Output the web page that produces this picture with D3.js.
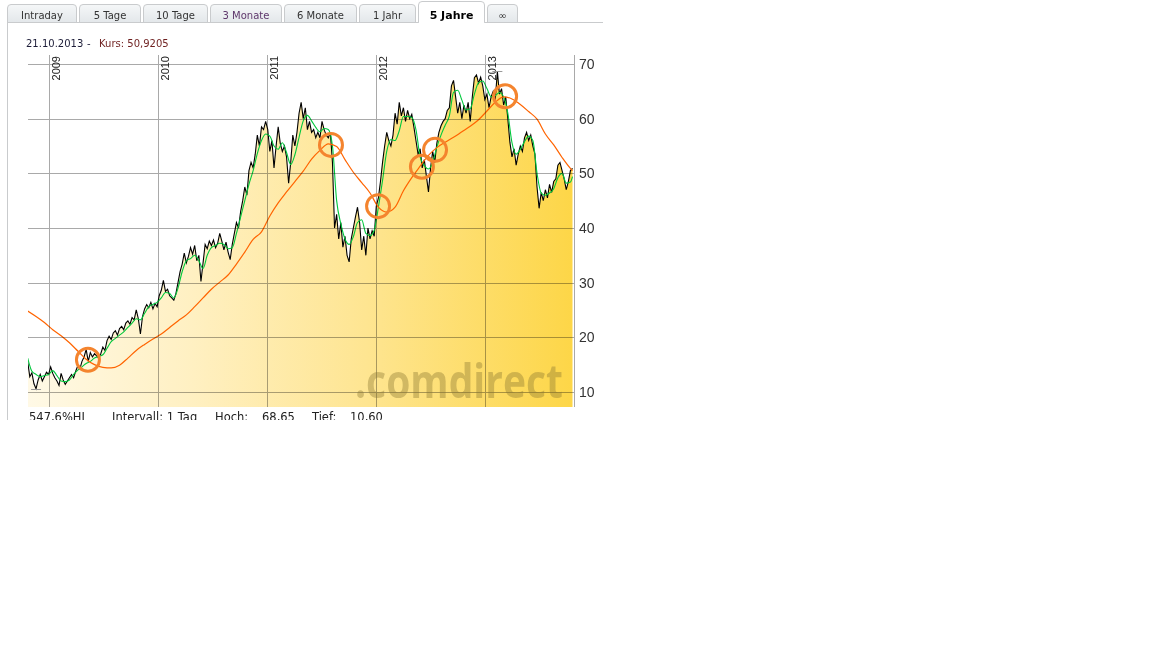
<!DOCTYPE html>
<html><head><meta charset="utf-8">
<script src="https://cdn.jsdelivr.net/npm/d3@7"></script>
<style>
body{margin:0;background:#fff;}
svg{display:block;}
</style></head><body>
<svg id="c" width="1152" height="420"></svg>
<script>
// ---------- DATA ----------
const tabs = ["Intraday","5 Tage","10 Tage","3 Monate","6 Monate","1 Jahr","5 Jahre","\u221E"];
const activeTab = "5 Jahre";
const visitedTab = "3 Monate";
const yTicks = [10,20,30,40,50,60,70];
const years = [2009,2010,2011,2012,2013];
const headerDate = "21.10.2013";
const headerKurs = "Kurs: 50,9205";
const footerLabels = ["547,6%HL","Intervall: 1 Tag","Hoch:","68,65","Tief:","10,60"];
const watermark = ".comdirect";
// weekly closes, last one = 21.10.2013
const price = [
15.5,12.8,13.5,11.5,10.6,12.2,13.2,12.0,12.8,13.6,
13.2,14.6,13.4,12.6,12.0,11.2,13.4,12.2,11.4,12.0,
12.6,13.2,12.6,13.8,14.8,14.2,15.6,16.4,17.8,15.6,
17.2,16.4,17.0,16.6,16.2,17.0,18.2,17.6,19.4,20.2,
19.6,20.8,21.2,20.4,21.6,22.0,21.4,22.6,23.0,22.4,
23.6,23.2,25.0,23.4,20.6,23.8,25.2,26.0,25.4,26.4,
25.2,26.2,25.6,27.6,28.6,30.4,28.4,28.8,27.6,27.2,
26.8,28.0,30.0,32.0,33.4,35.4,33.6,34.8,36.4,35.2,
36.8,34.0,35.0,30.2,33.6,37.0,36.2,37.6,36.8,37.8,
36.4,37.2,39.0,37.6,36.0,37.4,35.6,34.2,37.0,39.0,
41.0,40.0,43.0,45.0,47.5,46.0,50.5,52.0,51.0,53.5,
57.0,55.0,58.5,58.0,59.5,58.0,54.0,56.0,51.0,55.0,
58.5,55.5,54.0,55.0,53.0,48.2,52.0,57.0,55.0,57.5,
61.0,63.0,60.0,62.0,58.0,59.5,57.5,58.0,56.5,57.5,
56.5,59.5,58.0,57.0,56.5,57.5,52.0,40.0,42.5,38.0,
41.0,36.5,38.5,35.0,33.8,38.0,40.0,42.0,43.8,41.0,
36.0,38.5,35.0,40.0,38.0,39.5,38.5,44.0,45.5,48.5,
52.0,55.0,57.5,56.0,55.0,57.0,61.0,59.0,63.0,60.5,
62.0,59.5,61.5,60.0,60.8,58.5,56.0,53.5,54.5,51.0,
52.5,49.5,46.6,51.0,54.0,52.0,55.5,57.5,58.7,59.5,
60.0,61.5,62.0,66.0,67.0,64.0,61.0,63.0,60.0,62.5,
61.0,63.0,59.5,64.0,67.5,68.0,66.5,67.6,66.0,63.5,
64.5,62.0,64.0,65.0,63.5,68.65,64.5,65.5,62.5,64.0,
60.0,55.7,53.0,54.5,51.5,53.5,55.0,54.0,56.5,57.5,
56.0,57.0,55.0,53.5,47.5,43.6,46.5,45.0,47.0,45.5,
48.0,46.5,48.5,49.0,51.5,52.0,50.5,49.0,47.0,48.5,
50.5,50.9205];
// short moving average, read every 2 weeks (last = 21.10.2013)
const green = [
16.2,13.8,13.2,12.8,13.0,13.2,13.9,13.0,12.0,11.9,
12.2,13.2,14.0,14.6,15.2,15.6,16.2,16.5,16.8,18.0,
19.2,19.8,20.4,21.0,21.8,22.6,23.4,23.2,24.4,25.6,
26.0,26.4,27.2,28.2,28.0,27.2,29.0,32.0,34.0,34.4,
35.0,34.0,32.6,35.0,36.4,36.8,37.2,37.0,36.2,36.4,
39.0,42.0,45.0,48.0,50.5,53.6,56.0,57.2,56.8,55.0,
54.4,55.6,53.8,51.6,53.4,56.6,59.6,60.6,59.6,58.4,
57.6,58.2,58.0,55.0,45.0,40.8,38.0,37.0,38.4,41.0,
41.5,39.0,38.6,39.6,43.8,48.7,54.0,56.2,56.0,57.8,
60.4,60.4,60.2,58.0,53.0,51.4,50.8,52.0,54.8,57.0,
58.8,60.5,64.8,65.2,63.4,61.6,61.8,64.5,66.6,66.9,
65.5,64.0,64.2,64.8,64.0,61.0,55.6,53.5,54.4,55.8,
56.8,56.0,50.0,46.4,46.0,46.4,47.2,49.2,50.0,48.2,
48.4,49.4];
// long moving average, read every 4 weeks (last = 21.10.2013)
const orange = [
24.8,23.8,22.7,21.4,20.3,19.0,17.5,16.0,15.0,14.5,
14.4,14.9,16.2,17.6,18.7,19.7,20.6,21.8,23.0,24.1,
25.6,27.2,28.8,30.1,31.4,33.4,35.6,37.9,39.3,42.2,
44.6,46.6,48.5,50.4,52.6,54.2,55.4,54.9,52.5,50.2,
48.3,46.4,43.8,42.9,43.8,46.8,49.2,51.3,53.3,54.7,
55.7,56.6,57.6,58.6,59.8,61.4,63.0,64.0,63.6,62.6,
61.3,59.9,57.2,55.2,52.9,50.9,50.5];
const signalDates = ["2009-05-10","2011-08-03","2012-01-08","2012-06-03","2012-07-17","2013-03-09"];
const signalValues = [15.9,55.2,44.0,51.2,54.3,64.1];

// ---------- LAYOUT ----------
const svg = d3.select("#c");
const lastDate = new Date(2013,9,21);
const nW = price.length - 1;
const weekDate = w => d3.timeDay.offset(lastDate, -(nW - w) * 7);
const parse = d3.timeParse("%Y-%m-%d");

const x = d3.scaleTime().domain([new Date(2008,9,21), new Date(2013,9,26)]).range([28,574]);
const y = d3.scaleLinear().domain([7.25,71.65]).range([407,55]);
const plot = {l:28, r:574, t:55, b:407};

const priceData = price.map((v,i)=>({d:weekDate(i), v}));
const greenData = green.map((v,j)=>({d:weekDate(j < green.length-1 ? 2*j : nW), v}));
const orangeData = orange.map((v,m)=>({d:weekDate(m < orange.length-1 ? 4*m : nW), v}));
const signals = signalDates.map((s,i)=>({d:parse(s), v:signalValues[i]}));

const defs = svg.append("defs");
const fillGrad = defs.append("linearGradient").attr("id","fillGrad")
  .attr("gradientUnits","userSpaceOnUse").attr("x1",plot.l).attr("x2",plot.r).attr("y1",0).attr("y2",0);
[[0,"#fff9e6"],[0.3,"#fff0c2"],[0.62,"#fee591"],[1,"#fdd647"]].forEach(([o,c])=>
  fillGrad.append("stop").attr("offset",o).attr("stop-color",c));
const tabGrad = defs.append("linearGradient").attr("id","tabGrad").attr("x1",0).attr("x2",0).attr("y1",0).attr("y2",1);
tabGrad.append("stop").attr("offset",0).attr("stop-color","#f5f7f8");
tabGrad.append("stop").attr("offset",1).attr("stop-color","#e3e7ea");
defs.append("clipPath").attr("id","plotClip").append("rect")
  .attr("x",plot.l).attr("y",plot.t).attr("width",plot.r-plot.l).attr("height",plot.b-plot.t);

// ---------- TABS ----------
const tabEdges = [[7,77],[79,141],[143,208],[210,282],[284,357],[359,416],[418,485],[487,518]];
const tabPath = (x0,x1,top) => `M${x0+0.5},22.5V${top+4}Q${x0+0.5},${top+0.5} ${x0+4},${top+0.5}H${x1-4}Q${x1-0.5},${top+0.5} ${x1-0.5},${top+4}V22.5`;
const tg = svg.append("g");
tabs.forEach((t,i)=>{
  if (t===activeTab) return;
  const [x0,x1] = tabEdges[i];
  tg.append("path").attr("d",tabPath(x0,x1,4)+"Z").attr("fill","url(#tabGrad)").attr("stroke","#c9cbcd");
});
tg.append("line").attr("x1",7).attr("x2",603).attr("y1",22.5).attr("y2",22.5).attr("stroke","#c9cbcd");
tabs.forEach((t,i)=>{
  const [x0,x1] = tabEdges[i];
  const act = t===activeTab;
  if (act) {
    tg.append("path").attr("d",tabPath(x0,x1,1)).attr("fill","#fff").attr("stroke","#c9cbcd");
    tg.append("rect").attr("x",x0+1).attr("y",21).attr("width",x1-x0-2).attr("height",3).attr("fill","#fff");
  }
  tg.append("text").attr("x",(x0+x1)/2).attr("y",19).attr("text-anchor","middle")
    .attr("font-family","Verdana, 'DejaVu Sans', sans-serif").attr("font-size",act?11:10)
    .attr("font-weight",act?"bold":"normal")
    .attr("fill",act?"#000":(t===visitedTab?"#5e376b":"#333"))
    .text(t);
});
svg.append("line").attr("x1",7.5).attr("x2",7.5).attr("y1",22).attr("y2",420).attr("stroke","#c9cbcd");

// ---------- HEADER ----------
const hf = "Verdana, 'DejaVu Sans', sans-serif";
svg.append("text").attr("x",26).attr("y",47).attr("font-family",hf).attr("font-size",10).attr("fill","#1d1d38").text(headerDate);
svg.append("text").attr("x",87).attr("y",47).attr("font-family",hf).attr("font-size",10).attr("fill","#1d1d38").text("-");
svg.append("text").attr("x",99).attr("y",47).attr("font-family",hf).attr("font-size",10).attr("fill","#6e1f1f").text(headerKurs);

// ---------- PLOT ----------
const area = d3.area().x(d=>x(d.d)).y0(plot.b).y1(d=>y(d.v));
const line = d3.line().x(d=>x(d.d)).y(d=>y(d.v));
const pg = svg.append("g").attr("clip-path","url(#plotClip)");
pg.append("path").datum(priceData).attr("d",area).attr("fill","url(#fillGrad)");

// grid
const grid = svg.append("g").style("mix-blend-mode","multiply");
grid.selectAll(".h").data(yTicks).join("line")
  .attr("x1",plot.l).attr("x2",plot.r).attr("y1",d=>Math.round(y(d))+0.5).attr("y2",d=>Math.round(y(d))+0.5)
  .attr("stroke","#a9a9a9");
grid.selectAll(".v").data(years).join("line")
  .attr("x1",d=>Math.round(x(new Date(d,0,1)))+0.5).attr("x2",d=>Math.round(x(new Date(d,0,1)))+0.5)
  .attr("y1",plot.t).attr("y2",plot.b).attr("stroke","#a9a9a9");
grid.append("line").attr("x1",plot.r+0.5).attr("x2",plot.r+0.5).attr("y1",plot.t).attr("y2",plot.b).attr("stroke","#a9a9a9");

// watermark
svg.append("text").attr("x",355).attr("y",398).attr("font-family","'Open Sans', 'DejaVu Sans', sans-serif")
  .attr("font-weight","bold").attr("font-size",47).attr("textLength",208).attr("lengthAdjust","spacingAndGlyphs")
  .attr("fill","#8a7630").attr("opacity",0.38).text(watermark);

// year labels
svg.selectAll(".yr").data(years).join("text")
  .attr("transform",d=>`translate(${Math.round(x(new Date(d,0,1)))+11},56) rotate(-90)`)
  .attr("text-anchor","end").attr("font-family","Arial, 'Liberation Sans', sans-serif").attr("font-size",11)
  .attr("fill","#222").text(d=>d);

// y tick labels
svg.selectAll(".yl").data(yTicks).join("text")
  .attr("x",579).attr("y",d=>y(d)+5).attr("font-family","Arial, 'Liberation Sans', sans-serif")
  .attr("font-size",14).attr("fill","#333").text(d=>d);

// lines
pg.append("path").datum(priceData).attr("d",line).attr("fill","none").attr("stroke","#000").attr("stroke-width",1.1);
pg.append("path").datum(greenData).attr("d",line.curve(d3.curveMonotoneX)).attr("fill","none").attr("stroke","#00c83c").attr("stroke-width",1.1);
pg.append("path").datum(orangeData).attr("d",d3.line().x(d=>x(d.d)).y(d=>y(d.v)).curve(d3.curveMonotoneX)).attr("fill","none").attr("stroke","#ff6400").attr("stroke-width",1.2);

// hi / lo markers
const hi = priceData.reduce((a,b)=>b.v>a.v?b:a), lo = priceData.reduce((a,b)=>b.v<a.v?b:a);
[hi,lo].forEach(p=>{
  svg.append("line").attr("x1",x(p.d)-5).attr("x2",x(p.d)+5).attr("y1",Math.round(y(p.v))+0.5).attr("y2",Math.round(y(p.v))+0.5)
    .attr("stroke","#999");
});

// signal circles
svg.selectAll(".sig").data(signals).join("circle")
  .attr("cx",d=>x(d.d)).attr("cy",d=>y(d.v)).attr("r",11.5)
  .attr("fill","none").attr("stroke","#f4842e").attr("stroke-width",3);

// ---------- FOOTER ----------
const footX = [29,112,215,262,312,350];
footerLabels.forEach((t,i)=>{
  svg.append("text").attr("x",footX[i]).attr("y",421).attr("font-family",hf).attr("font-size",11.5).attr("fill","#222").text(t);
});
</script>
</body></html>
